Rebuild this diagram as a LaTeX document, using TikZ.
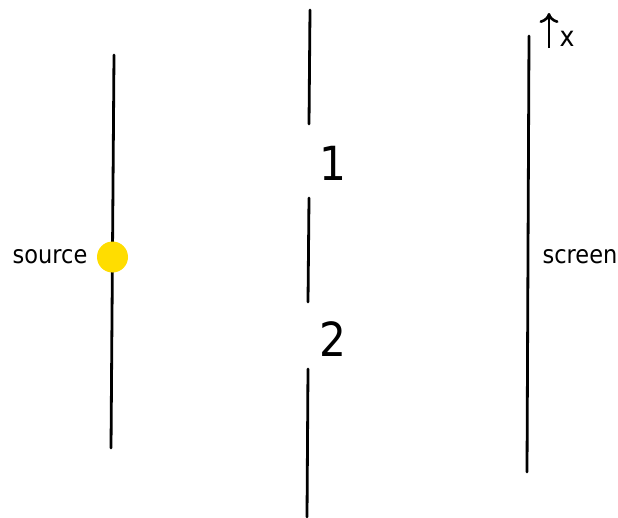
\documentclass[tikz,border=0pt]{standalone}
\usepackage{fontspec}
\setmainfont{DejaVu Sans Condensed}
\usetikzlibrary{arrows.meta}
\definecolor{lampyellow}{RGB}{255,221,0}
\tikzset{
  wall/.style={line width=2.8pt, line cap=round},
  lbl/.style={font=\fontsize{25}{28}\selectfont, inner sep=0pt},
  slitlbl/.style={font=\fontsize{47}{50}\selectfont, inner sep=0pt},
  axis/.style={line width=2.6pt, -{To[length=10pt,width=19pt,line width=2.6pt]}},
}
\begin{document}
\begin{tikzpicture}[x=1pt, y=-1pt]
  \useasboundingbox (0,0) rectangle (618,517);
  % source plane
  \coordinate (srctop) at (114,55);
  \coordinate (srcbot) at (111,448);
  \draw[wall] (srctop) -- (srcbot);
  \node[circle, fill=lampyellow, minimum size=31pt, inner sep=0pt] (lamp) at (112.5,257) {};
  \node[lbl] (srclbl) at (50,257) {source};
  % barrier with two slits
  \coordinate (b1) at (310,10);
  \coordinate (b2) at (309,124);
  \coordinate (b3) at (309,198);
  \coordinate (b4) at (308,302);
  \coordinate (b5) at (308,369);
  \coordinate (b6) at (307,517);
  \draw[wall] (b1) -- (b2);
  \draw[wall] (b3) -- (b4);
  \draw[wall] (b5) -- (b6);
  \node[slitlbl] (slitA) at (333,163) {1};
  \node[slitlbl] (slitB) at (333,339) {2};
  % screen
  \coordinate (scrtop) at (529,36);
  \coordinate (scrbot) at (527,472);
  \draw[wall] (scrtop) -- (scrbot);
  \node[lbl] (scrlbl) at (580,257) {screen};
  % x axis
  \coordinate (xfoot) at (549,48);
  \coordinate (xhead) at (549,13);
  \draw[axis] (xfoot) -- (xhead);
  \node[lbl, font=\fontsize{28}{30}\selectfont] (xlbl) at (567,39) {x};
\end{tikzpicture}
\end{document}
